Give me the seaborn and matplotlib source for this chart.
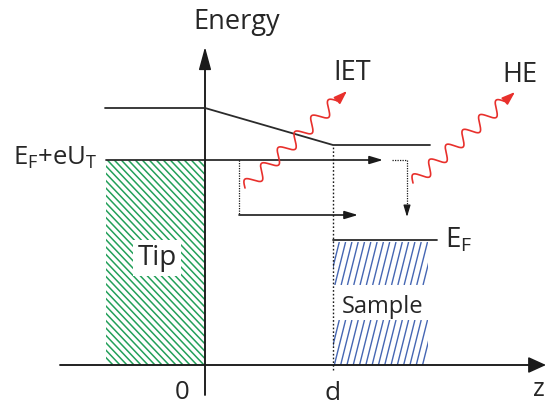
import numpy as np
import pandas as pd
import matplotlib
matplotlib.use("Agg")
import matplotlib.pyplot as plt
from matplotlib.patches import Rectangle
from matplotlib.collections import LineCollection
import seaborn as sns

# ---- energy diagram of a tunnel junction (z in px-like units, E upward) ----
d = 128                      # gap width (sample surface position)
tip_left = -99               # left edge of tip block
tip_level = 205              # E_F + eU_T
sample_right = 228           # right edge of sample block
sample_fermi = 125           # E_F of sample
label_gap = [45, 80]         # band of the sample block kept blank for its label

barrier_z = [-100, 0, d, 225]
barrier_E = [257, 257, 220, 220]

elastic_end = 178            # elastic tunnelling arrow head
inelastic_z = [34, 153]      # inelastic path: drop point, arrow head
inelastic_E = 150
hot_z = [187, 202]           # hot-electron relaxation path
hot_E_end = 148

iet_photon = [(40, 177), (142, 274)]
he_photon = [(208, 182), (310, 273)]

axis_z = [-145, 341]
axis_E = [-30, 318]

labels = {
    "Energy": (32, 336), "IET": (147, 285), "HE": (315, 283),
}

GREEN = "#23a05a"
BLUE = "#4566b3"
RED = "#e8302c"
DARK = "#2b2b2b"

sns.set_theme(style="white")
plt.rcParams["font.family"] = ["Open Sans", "DejaVu Sans"]
plt.rcParams["mathtext.fontset"] = "custom"
plt.rcParams["mathtext.rm"] = "Open Sans"
plt.rcParams["mathtext.it"] = "Open Sans"
plt.rcParams["mathtext.default"] = "regular"

fig = plt.figure(figsize=(5.47, 4.05), dpi=100)
ax = fig.add_axes([0, 0, 1, 1])
ax.set_xlim(-205, 342)
ax.set_ylim(-40, 365)
ax.axis("off")


def hatch(x0, x1, y0, y1, spacing, slope, color, lw, z=2):
    """Fill a rectangle with parallel lines: z = c + slope * (E - y0)."""
    rect = Rectangle((x0, y0), x1 - x0, y1 - y0, fill=False, lw=0,
                     transform=ax.transData)
    ax.add_patch(rect)
    h = y1 - y0
    shift = slope * h
    cs = np.arange(min(x0, x0 - shift) - spacing, max(x1, x1 - shift) + spacing, spacing)
    segs = [[(c, y0), (c + shift, y1)] for c in cs]
    lc = LineCollection(segs, colors=color, linewidths=lw, zorder=z)
    ax.add_collection(lc)
    lc.set_clip_path(rect)


def arrow(p0, p1, color="k", lw=1.2, hl=1.0, hw=0.35, ms=8, ls="-", z=4):
    ax.annotate("", xy=p1, xytext=p0,
                arrowprops=dict(arrowstyle=f"-|>,head_length={hl},head_width={hw}",
                                color=color, lw=lw, ls=ls, mutation_scale=ms,
                                shrinkA=0, shrinkB=0), zorder=z)


def photon(p0, p1, periods=5.5, amp=6.5, tail=6, head=8):
    p0 = np.array(p0, float)
    p1 = np.array(p1, float)
    u = (p1 - p0) / np.linalg.norm(p1 - p0)
    nrm = np.array([-u[1], u[0]])
    L = np.linalg.norm(p1 - p0) - tail - head
    s = np.linspace(0, L, 500)
    off = amp * np.sin(2 * np.pi * periods * s / L)
    pts = p0 + np.outer(s, u) + np.outer(off, nrm)
    ax.plot(pts[:, 0], pts[:, 1], color=RED, lw=1.2, zorder=5)
    end = p0 + u * L
    arrow(end, p1, color=RED, lw=1.2, hl=1.0, hw=0.35, ms=8, z=5)


# tip block (green hatch)
hatch(tip_left, 0, 0, tip_level, 7.0, -0.95, GREEN, 1.1)

# sample block (blue hatch), with a blank band for its label
hatch(d, sample_right - 5, 0, label_gap[0], 6.3, 0.25, BLUE, 1.0)
hatch(d, sample_right - 5, label_gap[1], sample_fermi - 2, 6.3, 0.25, BLUE, 1.0)

# axes with arrow heads
ax.plot([axis_z[0], 330], [0, 0], color="k", lw=1.1, zorder=3)
arrow((axis_z[0], 0), (axis_z[1], 0), lw=1.1, hl=1.1, hw=0.5, ms=10, z=3)
ax.plot([0, 0], [axis_E[0], axis_E[1] - 15], color="k", lw=1.1, zorder=3)
arrow((0, axis_E[0]), (0, axis_E[1]), lw=1.1, hl=1.4, hw=0.38, ms=10, z=3)

# vacuum barrier profile and Fermi levels
prof = pd.DataFrame({"z": barrier_z, "E": barrier_E})
sns.lineplot(data=prof, x="z", y="E", ax=ax, color=DARK, lw=1.3,
             sort=False, estimator=None, legend=False, zorder=3)
levels = pd.DataFrame({"z": [tip_left, 0, np.nan, d, sample_right + 4],
                       "E": [tip_level, tip_level, np.nan, sample_fermi, sample_fermi]})
ax.plot(levels["z"], levels["E"], color=DARK, lw=1.3, zorder=3)

# sample surface
ax.plot([d, d], [-5, barrier_E[-1]], color="k", lw=1.0, ls=(0, (1.2, 1.5)), zorder=3)

# elastic tunnelling
arrow((0, tip_level), (elastic_end, tip_level), lw=1.2, hl=1.0, hw=0.3, ms=8)

# inelastic tunnelling
ax.plot([inelastic_z[0], inelastic_z[0]], [tip_level, inelastic_E], color="k",
        lw=0.9, ls=(0, (1, 1)), zorder=4)
arrow((inelastic_z[0], inelastic_E), (inelastic_z[1], inelastic_E),
      lw=1.2, hl=1.0, hw=0.3, ms=8)

# hot-electron relaxation
ax.plot([hot_z[0], hot_z[1], hot_z[1]], [tip_level, tip_level, hot_E_end + 8],
        color="k", lw=0.9, ls=(0, (1, 1)), zorder=4)
arrow((hot_z[1], hot_E_end + 9), (hot_z[1], hot_E_end), lw=0.9, hl=1.0, hw=0.3, ms=7)

# emitted photons
photon(*iet_photon)
photon(*he_photon)

# labels
fs = 19.5
ax.text(*labels["Energy"], "Energy", fontsize=fs, ha="center", va="baseline")
ax.text(*labels["IET"], "IET", fontsize=fs, ha="center", va="baseline")
ax.text(*labels["HE"], "HE", fontsize=fs, ha="center", va="baseline")
ax.text(-192, 200, "E$_F$+eU$_T$", fontsize=18.5, ha="left", va="baseline")
ax.text(240, 117, "E$_F$", fontsize=20, ha="left", va="baseline")
ax.text(-48, 100, "Tip", fontsize=20, ha="center", va="baseline", zorder=6,
        bbox=dict(facecolor="white", edgecolor="none", pad=3))
ax.text(178, 52, "Sample", fontsize=17, ha="center", va="baseline", zorder=6)
ax.text(-23, -34, "0", fontsize=18.5, ha="center", va="baseline")
ax.text(d, -35, "d", fontsize=19, ha="center", va="baseline")
ax.text(340, -37, "z", fontsize=18, ha="right", va="bottom")

fig.savefig("out.png", dpi=100)
